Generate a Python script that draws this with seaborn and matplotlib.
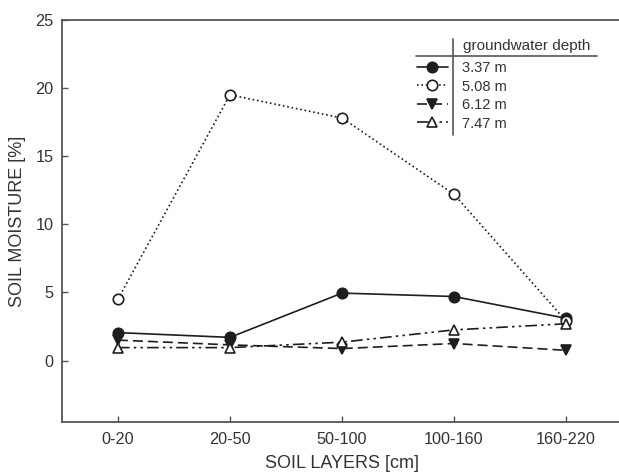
import matplotlib
matplotlib.use("Agg")
import matplotlib.pyplot as plt
from matplotlib.lines import Line2D
import seaborn as sns

layers = ["0-20", "20-50", "50-100", "100-160", "160-220"]
depths = ["3.37 m", "5.08 m", "6.12 m", "7.47 m"]
moist_337 = [2.05, 1.7, 4.95, 4.7, 3.1]
moist_508 = [4.5, 19.5, 17.8, 12.2, 2.9]
moist_612 = [1.5, 1.15, 0.88, 1.25, 0.75]
moist_747 = [0.95, 0.95, 1.35, 2.25, 2.7]

sns.set_theme(style="ticks")
plt.rcParams["font.family"] = ["Liberation Sans", "DejaVu Sans"]

ink = "#1e1e1e"
txt = "#333333"

fig = plt.figure(figsize=(6.19, 4.74), dpi=100)
ax = fig.add_axes([0.100, 0.110, 0.905, 0.848])

series = [
    (moist_337, "o", ink, "-"),
    (moist_508, "o", "white", ":"),
    (moist_612, "v", ink, (0, (6, 3))),
    (moist_747, "^", "white", (0, (7, 2.5, 1.5, 2.5, 1.5, 2.5))),
]
for (vals, mk, face, ls), lab in zip(series, depths):
    sns.lineplot(x=layers, y=vals, ax=ax, sort=False, color=ink, linewidth=1.2,
                 linestyle=ls, marker=mk, markersize=7.5, markerfacecolor=face,
                 markeredgecolor=ink, markeredgewidth=1.2, label=lab)

ax.set_xlim(-0.5, 4.5)
ax.set_ylim(-4.5, 25)
ax.set_yticks([0, 5, 10, 15, 20, 25])
ax.set_xlabel("SOIL LAYERS [cm]", fontsize=13, color=txt, labelpad=6)
ax.set_ylabel("SOIL MOISTURE [%]", fontsize=13, color=txt, labelpad=7)
ax.tick_params(direction="in", length=4, width=1, colors="#555555",
               labelcolor=txt, labelsize=11.7)
ax.tick_params(axis="x", pad=7)
ax.tick_params(axis="y", pad=6)
for side in ["left", "bottom", "top"]:
    ax.spines[side].set_color("#555555")
    ax.spines[side].set_linewidth(1.3)
ax.spines["right"].set_visible(False)

leg = ax.legend(loc="upper left", bbox_to_anchor=(417 / 619, 1 - 61 / 474),
                bbox_transform=fig.transFigure, frameon=False, fontsize=10.5,
                handlelength=2.1, handletextpad=1.0, labelspacing=0.31,
                borderpad=0, borderaxespad=0)
for t in leg.get_texts():
    t.set_color(txt)

fig.text(463 / 619, 1 - 46 / 474, "groundwater depth", fontsize=11,
         color=txt, va="center", ha="left")
fig.add_artist(Line2D([416 / 619, 597 / 619], [1 - 56 / 474, 1 - 56 / 474],
                      color="#555555", linewidth=1.2))
fig.add_artist(Line2D([453 / 619, 453 / 619], [1 - 39 / 474, 1 - 135 / 474],
                      color="#555555", linewidth=1.2))

fig.savefig("out.png", dpi=100)
